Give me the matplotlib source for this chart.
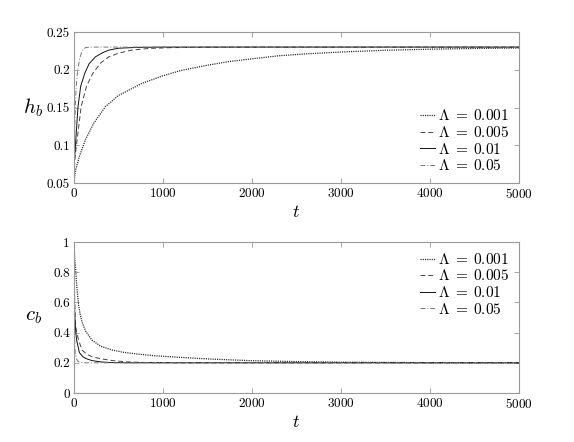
"""
Bed height h_b and concentration c_b against time for several Lambda values
"""

import matplotlib
matplotlib.use('Agg')
import matplotlib.pyplot as plt
from matplotlib.ticker import FormatStrFormatter

plt.rcParams['font.family'] = 'serif'
plt.rcParams['font.serif'] = ['cmr10']
plt.rcParams['mathtext.fontset'] = 'cm'
plt.rcParams['axes.unicode_minus'] = False
plt.rcParams['axes.formatter.use_mathtext'] = True

labels = [r'$\Lambda\;=\;0.001$', r'$\Lambda\;=\;0.005$',
          r'$\Lambda\;=\;0.01$', r'$\Lambda\;=\;0.05$']

# h_b curves
t_h1 = [0, 10, 20, 60, 127, 221, 352, 500, 764, 1000, 1200, 1500, 1750,
        2000, 2300, 2600, 3000, 3500, 4000, 4500, 5000]
h1 = [0.05, 0.061, 0.068, 0.085, 0.107, 0.129, 0.151, 0.166, 0.182, 0.192,
      0.199, 0.206, 0.211, 0.2145, 0.2185, 0.221, 0.2235, 0.2258, 0.2272,
      0.2282, 0.2288]
t_h2 = [0, 5, 12, 35, 80, 140, 210, 300, 390, 500, 650, 850, 1100, 1500,
        2000, 5000]
h2 = [0.05, 0.07, 0.085, 0.107, 0.151, 0.178, 0.195, 0.209, 0.217, 0.222,
      0.226, 0.2283, 0.2293, 0.2298, 0.23, 0.23]
t_h3 = [0, 3, 8, 20, 45, 75, 120, 170, 240, 320, 390, 500, 700, 1000, 5000]
h3 = [0.05, 0.07, 0.085, 0.107, 0.151, 0.178, 0.195, 0.208, 0.217, 0.2225,
      0.226, 0.2285, 0.2296, 0.23, 0.23]
t_h4 = [0, 2, 5, 10, 16, 25, 40, 60, 90, 130, 200, 5000]
h4 = [0.05, 0.08, 0.1, 0.13, 0.155, 0.178, 0.198, 0.213, 0.225, 0.2295,
      0.23, 0.23]

# c_b curves
t_c1 = [0, 5, 10, 22, 35, 52, 70, 90, 130, 202, 300, 427, 550, 727, 900,
        1191, 1560, 2000, 2500, 3000, 4000, 5000]
c1 = [1.0, 0.93, 0.88, 0.79, 0.68, 0.58, 0.52, 0.47, 0.41, 0.35, 0.31,
      0.285, 0.27, 0.257, 0.247, 0.236, 0.224, 0.214, 0.208, 0.204, 0.201,
      0.2]
t_c2 = [0, 3, 8, 15, 30, 52, 90, 140, 202, 300, 427, 600, 800, 1200, 5000]
c2 = [1.0, 0.8, 0.6, 0.46, 0.4, 0.35, 0.285, 0.258, 0.24, 0.227, 0.215,
      0.206, 0.202, 0.2, 0.2]
t_c3 = [0, 2, 5, 10, 20, 30, 60, 100, 135, 200, 300, 400, 600, 5000]
c3 = [1.0, 0.8, 0.62, 0.5, 0.4, 0.35, 0.268, 0.24, 0.228, 0.215, 0.206,
      0.202, 0.2, 0.2]
t_c4 = [0, 1, 3, 6, 10, 15, 25, 40, 60, 100, 5000]
c4 = [1.0, 0.75, 0.5, 0.38, 0.3, 0.26, 0.23, 0.212, 0.205, 0.2, 0.2]

# line style: (dash pattern, colour, width)
styles = [((0.9, 0.9), '#222222', 0.9),
          ((5, 3), '#444444', 0.7),
          ((), '#111111', 0.7),
          ((5, 2, 1, 2), '#777777', 0.7)]
spine_col = '#999999'


def style_axes(ax):
    # grey box, inward ticks on all four sides
    for s in ax.spines.values():
        s.set_color(spine_col)
        s.set_linewidth(0.8)
    ax.tick_params(direction='in', top=True, right=True, length=3.5,
                   width=0.6, color=spine_col, labelsize=9.5, pad=3)
    ax.set_xlim(0, 5000)
    ax.set_xticks([0, 1000, 2000, 3000, 4000, 5000])
    ax.set_xlabel(r'$t$', fontsize=13, labelpad=2)


def draw(ax, series):
    for (tt, yy), (dash, col, lw), lab in zip(series, styles, labels):
        line, = ax.plot(tt, yy, color=col, lw=lw, label=lab)
        if dash:
            line.set_dashes(dash)


fig = plt.figure(figsize=(5.74, 4.42), dpi=100)
ax1 = fig.add_axes([74 / 574, 1 - 183 / 442, 445 / 574, 151 / 442])
ax2 = fig.add_axes([74 / 574, 1 - 393 / 442, 445 / 574, 151 / 442])

draw(ax1, [(t_h1, h1), (t_h2, h2), (t_h3, h3), (t_h4, h4)])
draw(ax2, [(t_c1, c1), (t_c2, c2), (t_c3, c3), (t_c4, c4)])

style_axes(ax1)
ax1.set_ylim(0.05, 0.25)
ax1.set_yticks([0.05, 0.1, 0.15, 0.2, 0.25])
ax1.yaxis.set_major_formatter(FormatStrFormatter('%g'))
ax1.set_ylabel(r'$h_b$', fontsize=15, rotation=0, labelpad=10, va='center')

style_axes(ax2)
ax2.set_ylim(0, 1)
ax2.set_yticks([0, 0.2, 0.4, 0.6, 0.8, 1])
ax2.yaxis.set_major_formatter(FormatStrFormatter('%g'))
ax2.set_ylabel(r'$c_b$', fontsize=15, rotation=0, labelpad=14, va='center')

leg_kw = dict(frameon=False, fontsize=11, handlelength=1.0,
              handletextpad=0.15, labelspacing=0.1, borderaxespad=0.25)
ax1.legend(loc='lower right', **leg_kw)
ax2.legend(loc='upper right', **leg_kw)

fig.savefig('out.png', dpi=100)
